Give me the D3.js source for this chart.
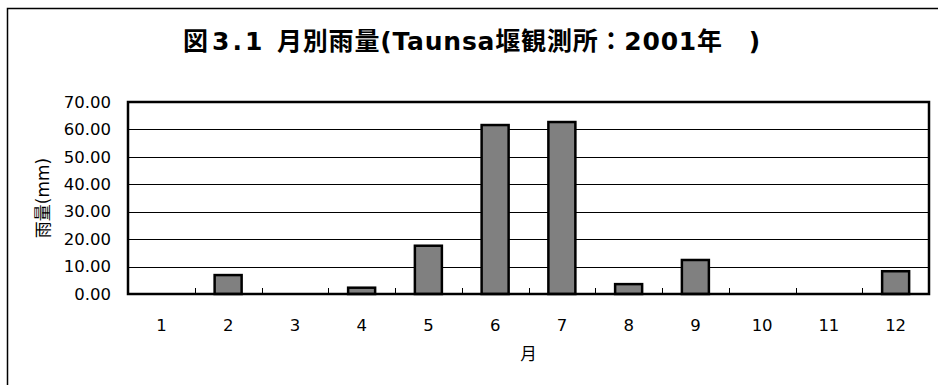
<!DOCTYPE html>
<html><head><meta charset="utf-8">
<script src="https://cdn.jsdelivr.net/npm/d3@7"></script>
<style>body{margin:0;background:#fff}svg{display:block}</style>
</head><body>
<script>
const months = ["1","2","3","4","5","6","7","8","9","10","11","12"];
const rainfall = [0, 6.9, 0, 2.3, 17.6, 61.6, 62.7, 3.6, 12.4, 0, 0, 8.3];
const yTicks = [0,10,20,30,40,50,60,70];
const titleParts = ["図", "3.1 ", "月別雨量(Taunsa堰観測所：2001年　)"];
const yLabel = "雨量(mm)";
const xLabel = "月";

const W = 938, H = 385;
const m = {left:128, right:9, top:102, bottom:91};
const svg = d3.select("body").append("svg").attr("width",W).attr("height",H);
const font = "'DejaVu Sans','Noto Sans CJK JP',sans-serif";

svg.append("rect").attr("x",7.5).attr("y",8.5).attr("width",W).attr("height",H)
  .attr("fill","#fff").attr("stroke","#000").attr("stroke-width",1.5);

const x = d3.scaleBand().domain(months).range([m.left, W-m.right]).paddingInner(0).paddingOuter(0);
const y = d3.scaleLinear().domain([0,70]).range([H-m.bottom, m.top]);

// gridlines
svg.append("g").selectAll("line").data(yTicks.filter(d=>d>0&&d<70)).join("line")
  .attr("x1",m.left).attr("x2",W-m.right)
  .attr("y1",d=>Math.round(y(d))+0.5).attr("y2",d=>Math.round(y(d))+0.5)
  .attr("stroke","#000").attr("stroke-width",1);

// y axis labels
const yAxis = d3.axisLeft(y).tickValues(yTicks).tickFormat(d3.format(".2f")).tickSize(0).tickPadding(17);
const gy = svg.append("g").attr("transform",`translate(${m.left},0)`).call(yAxis);
gy.select(".domain").remove();
gy.selectAll("text").attr("font-family",font).attr("font-size",16.5).attr("fill","#000");

// x axis
const xAxis = d3.axisBottom(x).tickSize(0).tickPadding(25);
const gx = svg.append("g").attr("transform",`translate(0,${H-m.bottom})`).call(xAxis);
gx.select(".domain").remove();
gx.selectAll("text").attr("font-family",font).attr("font-size",16.5).attr("fill","#000");

// inward ticks at category boundaries
svg.append("g").selectAll("line").data(months.slice(1)).join("line")
  .attr("x1",d=>Math.round(x(d))+0.5).attr("x2",d=>Math.round(x(d))+0.5)
  .attr("y1",H-m.bottom).attr("y2",H-m.bottom-6)
  .attr("stroke","#000").attr("stroke-width",1);

// bars
const bw = 27;
svg.append("g").selectAll("rect").data(months.map((mth,i)=>({mth,v:rainfall[i]})).filter(d=>d.v>0)).join("rect")
  .attr("x",d=>x(d.mth)+x.bandwidth()/2-bw/2)
  .attr("y",d=>y(d.v))
  .attr("width",bw)
  .attr("height",d=>y(0)-y(d.v))
  .attr("fill","#808080").attr("stroke","#000").attr("stroke-width",2.5);

// plot border
svg.append("rect").attr("x",m.left).attr("y",m.top)
  .attr("width",W-m.right-m.left).attr("height",H-m.bottom-m.top)
  .attr("fill","none").attr("stroke","#000").attr("stroke-width",2.5);

// title
const t = svg.append("text").attr("x",183).attr("y",50).attr("text-anchor","start")
  .attr("font-family",font).attr("font-size",25).attr("font-weight","bold");
t.append("tspan").attr("letter-spacing",4).text(titleParts[0]);
t.append("tspan").attr("letter-spacing",3).text(titleParts[1]);
t.append("tspan").attr("letter-spacing",0.8).text(titleParts[2]);

// y label
svg.append("text").attr("transform",`translate(49,${(m.top+H-m.bottom)/2}) rotate(-90)`)
  .attr("text-anchor","middle").attr("font-family",font).attr("font-size",17).text(yLabel);

// x label
svg.append("text").attr("x",(m.left+W-m.right)/2).attr("y",360).attr("text-anchor","middle")
  .attr("font-family",font).attr("font-size",16.5).text(xLabel);
</script>
</body></html>
